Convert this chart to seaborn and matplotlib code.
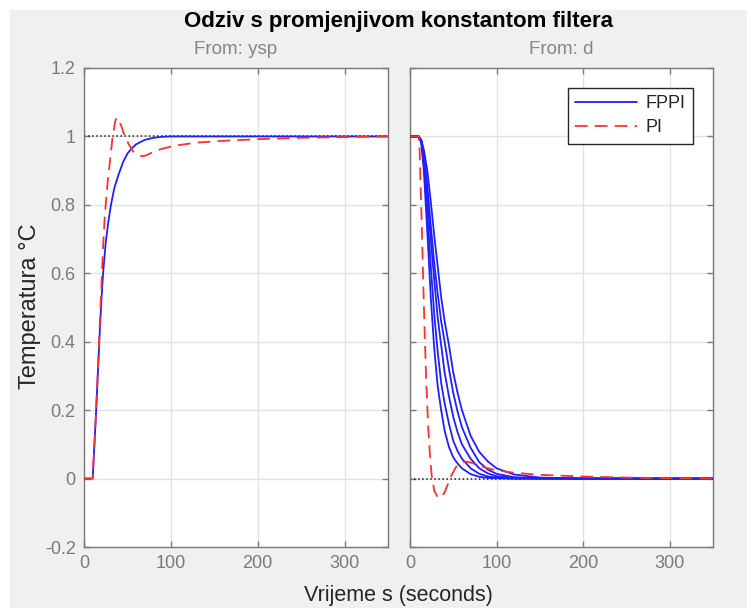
import matplotlib
matplotlib.use('Agg')
import numpy as np
import pandas as pd
import matplotlib.pyplot as plt
from matplotlib.patches import Rectangle
from matplotlib.lines import Line2D
import seaborn as sns

# odziv na promjenu reference (ysp)
t_ysp = [0, 10, 12, 14, 16, 18, 20, 22, 25, 28, 31, 35, 40, 45, 50, 55, 60, 70, 80, 90, 100, 350]
fppi_ysp = [0, 0, 0.1, 0.2, 0.31, 0.42, 0.52, 0.6, 0.69, 0.75, 0.8, 0.85, 0.89, 0.925, 0.95, 0.965,
            0.977, 0.99, 0.996, 0.999, 1.0, 1.0]

t_pi_ysp = [0, 10, 12, 14, 16, 18, 20, 22, 24, 27, 30, 33, 36, 38, 40, 43, 47, 52, 57, 62, 67, 72,
            80, 90, 100, 110, 130, 160, 200, 250, 300, 350]
pi_ysp = [0, 0, 0.1, 0.2, 0.32, 0.44, 0.56, 0.68, 0.77, 0.86, 0.93, 1.0, 1.045, 1.055, 1.05, 1.03,
          1.0, 0.975, 0.955, 0.946, 0.942, 0.945, 0.955, 0.964, 0.97, 0.975, 0.982, 0.987, 0.992,
          0.996, 0.998, 1.0]

# odziv na poremecaj (d), FPPI za 5 vrijednosti konstante filtera
t_d = [0, 10, 13, 16, 20, 24, 28, 32, 36, 40, 45, 50, 55, 60, 70, 80, 90, 100, 120, 150, 200, 350]
fppi_d = [
    [1, 1, 0.98, 0.9, 0.72, 0.53, 0.38, 0.27, 0.2, 0.14, 0.092, 0.062, 0.044, 0.03, 0.013, 0.005,
     0.002, 0.001, 0, 0, 0, 0],
    [1, 1, 0.985, 0.93, 0.78, 0.62, 0.48, 0.37, 0.28, 0.22, 0.16, 0.11, 0.08, 0.058, 0.03, 0.014,
     0.006, 0.003, 0, 0, 0, 0],
    [1, 1, 0.987, 0.945, 0.82, 0.7, 0.58, 0.47, 0.39, 0.31, 0.24, 0.18, 0.135, 0.1, 0.058, 0.03,
     0.015, 0.007, 0.002, 0, 0, 0],
    [1, 1, 0.989, 0.955, 0.855, 0.74, 0.63, 0.54, 0.46, 0.4, 0.32, 0.25, 0.195, 0.15, 0.09, 0.048,
     0.026, 0.014, 0.004, 0.001, 0, 0],
    [1, 1, 0.99, 0.96, 0.9, 0.81, 0.71, 0.62, 0.53, 0.46, 0.39, 0.31, 0.25, 0.2, 0.125, 0.078,
     0.05, 0.03, 0.012, 0.003, 0, 0],
]

t_pi_d = [0, 10, 11, 12, 13.5, 15, 17, 19, 21, 23, 25, 28, 32, 36, 40, 44, 48, 53, 58, 63, 70, 80,
          90, 100, 120, 150, 200, 250, 300, 350]
pi_d = [1, 1, 0.97, 0.88, 0.75, 0.6, 0.42, 0.27, 0.15, 0.07, 0.01, -0.035, -0.055, -0.055, -0.04,
        -0.015, 0.01, 0.033, 0.046, 0.05, 0.047, 0.038, 0.03, 0.024, 0.017, 0.011, 0.006, 0.003,
        0.001, 0.0]

steady_ysp = 1.0
steady_d = 0.0

x_ticks = [0, 100, 200, 300]
y_ticks = [-0.2, 0, 0.2, 0.4, 0.6, 0.8, 1.0, 1.2]
y_ticklabels = ['-0.2', '0', '0.2', '0.4', '0.6', '0.8', '1', '1.2']

sns.set_theme(style='white')
plt.rcParams['font.family'] = ['Liberation Sans', 'DejaVu Sans']

W, H = 747, 608
fig = plt.figure(figsize=(W / 100, H / 100), dpi=100)
fig.patch.set_facecolor('white')
fig.patches.append(Rectangle((10 / W, 0), 1, (H - 10) / H, transform=fig.transFigure,
                             facecolor='#f0f0f0', edgecolor='none', zorder=-10))

ax1 = fig.add_axes([84 / W, 61 / H, 304 / W, 479 / H])
ax2 = fig.add_axes([410 / W, 61 / H, 303 / W, 479 / H])

blue = '#1f1fff'
red = '#ff3030'
dash = (0, (7, 4))

ax1.axhline(steady_ysp, color='k', ls=':', lw=1.1, zorder=1)
sns.lineplot(x=t_ysp, y=fppi_ysp, ax=ax1, color=blue, lw=1.3, zorder=3)
sns.lineplot(x=t_pi_ysp, y=pi_ysp, ax=ax1, color=red, lw=1.3, linestyle=dash, zorder=4)

ax2.axhline(steady_d, color='k', ls=':', lw=1.1, zorder=1)
for curve in fppi_d:
    sns.lineplot(x=t_d, y=curve, ax=ax2, color=blue, lw=1.3, zorder=3)
sns.lineplot(x=t_pi_d, y=pi_d, ax=ax2, color=red, lw=1.3, linestyle=dash, zorder=4)

for ax, name in ((ax1, 'From: ysp'), (ax2, 'From: d')):
    ax.set_xlim(0, 350)
    ax.set_ylim(-0.2, 1.2)
    ax.set_xticks(x_ticks)
    ax.set_yticks(y_ticks)
    ax.set_xlabel('')
    ax.set_ylabel('')
    ax.set_facecolor('white')
    ax.grid(True, color='#e2e2e2', lw=1)
    ax.set_axisbelow(True)
    ax.tick_params(direction='in', length=4, width=1, colors='#7a7a7a', labelcolor='#7a7a7a',
                   labelsize=13, top=True, right=True, bottom=True, left=True, pad=6)
    for s in ax.spines.values():
        s.set_visible(True)
        s.set_color('#7a7a7a')
        s.set_linewidth(1)
    ax.text(0.5, 1 + 19 / 479, name, transform=ax.transAxes, ha='center', va='center',
            fontsize=13.5, color='#858585')

ax1.set_yticklabels(y_ticklabels)
ax2.set_yticklabels([])

handles = [Line2D([], [], color=blue, lw=1.3), Line2D([], [], color=red, lw=1.3, linestyle=dash)]
leg = ax2.legend(handles, ['FPPI', 'PI'], loc='upper right',
                 bbox_to_anchor=(1 - 20 / 303, 1 - 20 / 479), borderaxespad=0,
                 fontsize=13, handlelength=3.4, handletextpad=0.5, borderpad=0.4,
                 labelspacing=0.4, fancybox=False, framealpha=1)
leg.get_frame().set_edgecolor('#262626')
leg.get_frame().set_linewidth(1)

fig.text(398 / W, 1 - 21 / H, 'Odziv s promjenjivom konstantom filtera', ha='center', va='center',
         fontsize=16, fontweight='bold', color='black')
fig.text(398 / W, 12 / H, 'Vrijeme s (seconds)', ha='center', va='center', fontsize=15.5,
         color='#262626')
fig.text(30 / W, 1 - 306 / H, 'Temperatura °C', ha='center', va='center', rotation=90,
         fontsize=17, color='#262626')

fig.savefig('out.png', dpi=100)
